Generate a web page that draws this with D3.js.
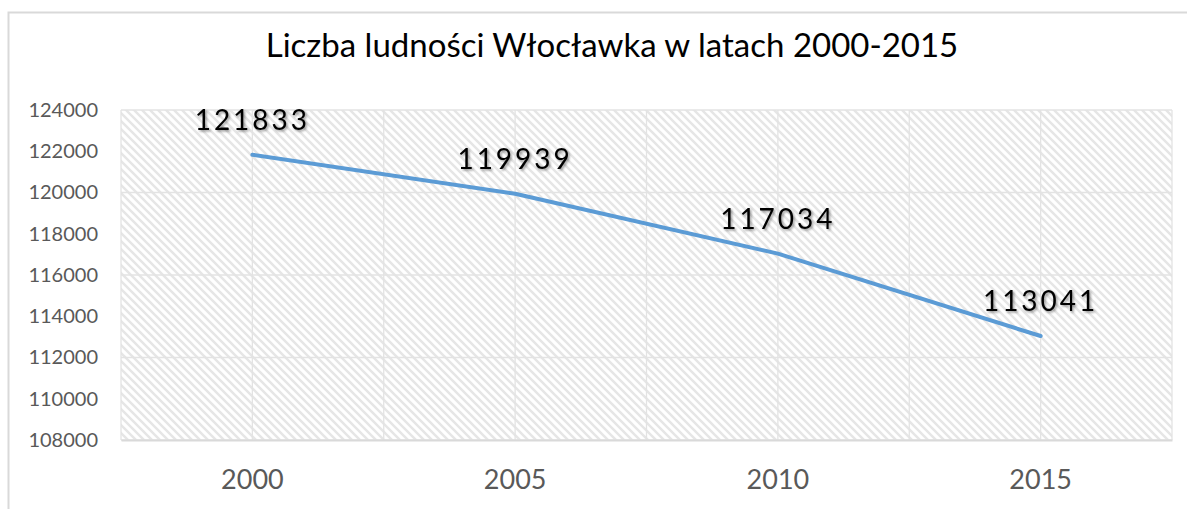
<!DOCTYPE html>
<html>
<head>
<meta charset="utf-8">
<script src="https://cdn.jsdelivr.net/npm/d3@7"></script>
<style>
  body { margin: 0; background: #fff; }
  text { font-family: Lato, "Open Sans", sans-serif; }
</style>
</head>
<body>
<svg id="chart"></svg>
<script>
var years = ["2000", "2005", "2010", "2015"];
var population = [121833, 119939, 117034, 113041];
var yTicks = [108000, 110000, 112000, 114000, 116000, 118000, 120000, 122000, 124000];
var yGrid = [108000, 112000, 116000, 120000, 124000];
var title = "Liczba ludności Włocławka w latach 2000-2015";

var width = 1187, height = 509;
var plot = {left: 121, right: 1172, top: 110, bottom: 440};

var svg = d3.select("#chart")
  .attr("width", width)
  .attr("height", height);

// hatch fill like the excel "wide downward diagonal"
var defs = svg.append("defs");
var pat = defs.append("pattern")
  .attr("id", "hatch")
  .attr("patternUnits", "userSpaceOnUse")
  .attr("width", 8)
  .attr("height", 8);
pat.append("rect").attr("width", 8).attr("height", 8).attr("fill", "#fff");
pat.append("path")
  .attr("d", "M-2,-2 L10,10 M-2,6 L2,10 M6,-2 L10,2")
  .attr("stroke", "#e6e6e6")
  .attr("stroke-width", 2.4);

var shadow = defs.append("filter").attr("id", "shadow")
  .attr("x", "-10%").attr("y", "-20%").attr("width", "130%").attr("height", "150%");
shadow.append("feDropShadow")
  .attr("dx", 1.5).attr("dy", 1.5).attr("stdDeviation", 1.2)
  .attr("flood-color", "#000").attr("flood-opacity", 0.4);

// chart border
svg.append("rect")
  .attr("x", 8.5).attr("y", 12.5)
  .attr("width", 1190).attr("height", 510)
  .attr("fill", "none")
  .attr("stroke", "#d9d9d9")
  .attr("stroke-width", 2);

var x = d3.scaleBand()
  .domain(years)
  .range([plot.left, plot.right])
  .padding(0);

var y = d3.scaleLinear()
  .domain([108000, 124000])
  .range([plot.bottom, plot.top]);

function cx(d) { return x(d) + x.bandwidth() / 2; }

svg.append("rect")
  .attr("x", plot.left).attr("y", plot.top)
  .attr("width", plot.right - plot.left)
  .attr("height", plot.bottom - plot.top)
  .attr("fill", "url(#hatch)");

// vertical gridlines on band edges and centers
var vlines = [];
years.forEach(function(d) { vlines.push(x(d)); vlines.push(cx(d)); });
vlines.push(plot.right);

svg.append("g").selectAll("line").data(vlines).enter()
  .append("line")
  .attr("x1", function(d) { return d; })
  .attr("x2", function(d) { return d; })
  .attr("y1", plot.top)
  .attr("y2", plot.bottom)
  .attr("stroke", "#e3e3e3")
  .attr("stroke-width", 1.3);

svg.append("g").selectAll("line").data(yGrid).enter()
  .append("line")
  .attr("x1", plot.left)
  .attr("x2", plot.right)
  .attr("y1", function(d) { return y(d); })
  .attr("y2", function(d) { return y(d); })
  .attr("stroke", "#e3e3e3")
  .attr("stroke-width", 1.3);

// y axis (no line, just labels)
var yAxis = d3.axisLeft(y).tickValues(yTicks).tickFormat(d3.format("d")).tickSize(0).tickPadding(23);
var gy = svg.append("g")
  .attr("transform", "translate(" + plot.left + ",0)")
  .call(yAxis);
gy.select(".domain").remove();
gy.selectAll("text")
  .attr("fill", "#595959")
  .style("font-size", "20px")
  .style("font-family", "Lato, sans-serif");

// x axis
var xAxis = d3.axisBottom(x).tickSize(0).tickPadding(30);
var gx = svg.append("g")
  .attr("transform", "translate(0," + plot.bottom + ")")
  .call(xAxis);
gx.select(".domain")
  .attr("stroke", "#d9d9d9")
  .attr("stroke-width", 2);
gx.selectAll("text")
  .attr("fill", "#595959")
  .style("font-size", "27px")
  .style("font-family", "Lato, sans-serif");

// line
var line = d3.line()
  .x(function(d, i) { return cx(years[i]); })
  .y(function(d) { return y(d); });

svg.append("path")
  .datum(population)
  .attr("d", line)
  .attr("fill", "none")
  .attr("stroke", "#5b9bd5")
  .attr("stroke-width", 4)
  .attr("stroke-linecap", "round")
  .attr("stroke-linejoin", "round");

// data labels
svg.append("g").selectAll("text").data(population).enter()
  .append("text")
  .attr("x", function(d, i) { return cx(years[i]); })
  .attr("y", function(d) { return y(d) - 25; })
  .attr("text-anchor", "middle")
  .attr("filter", "url(#shadow)")
  .style("font-size", "28px")
  .style("letter-spacing", "3px")
  .attr("fill", "#000")
  .text(function(d) { return d; });

svg.append("text")
  .attr("x", 612)
  .attr("y", 57)
  .attr("text-anchor", "middle")
  .style("font-size", "33px")
  .attr("fill", "#000")
  .text(title);
</script>
</body>
</html>
